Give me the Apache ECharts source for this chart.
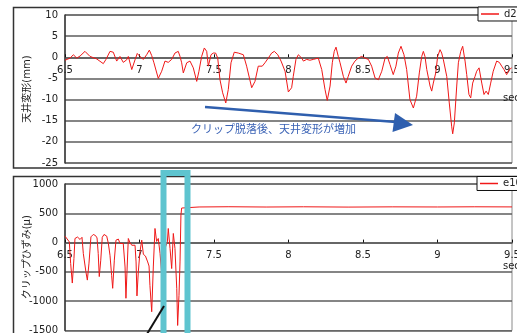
<!DOCTYPE html>
<html>
<head>
<meta charset="utf-8">
<script src="https://cdn.jsdelivr.net/npm/echarts@6/dist/echarts.min.js"></script>
<style>
  html, body { margin: 0; padding: 0; background: #fff; }
  #chart { width: 517px; height: 333px; }
</style>
</head>
<body>
<div id="chart"></div>
<script>
// Ceiling displacement d2 (mm) against time (sec)
const timeD2 = [
  6.500,6.534,6.556,6.579,6.601,6.634,6.668,6.713,6.757,6.775,
  6.802,6.824,6.847,6.869,6.891,6.914,6.925,6.948,6.970,6.985,
  7.003,7.026,7.048,7.066,7.082,7.097,7.126,7.149,7.171,7.193,
  7.216,7.238,7.260,7.272,7.283,7.294,7.317,7.339,7.361,7.384,
  7.399,7.417,7.435,7.451,7.462,7.480,7.495,7.511,7.525,7.540,
  7.558,7.579,7.596,7.614,7.636,7.663,7.697,7.719,7.753,7.775,
  7.797,7.809,7.824,7.842,7.864,7.887,7.905,7.928,7.950,7.977,
  7.999,8.021,8.032,8.050,8.066,8.089,8.100,8.122,8.144,8.166,
  8.200,8.223,8.245,8.260,8.279,8.294,8.307,8.319,8.334,8.346,
  8.368,8.386,8.401,8.424,8.446,8.468,8.491,8.513,8.536,8.558,
  8.581,8.603,8.626,8.648,8.663,8.681,8.703,8.721,8.737,8.755,
  8.775,8.793,8.815,8.838,8.860,8.878,8.894,8.905,8.916,8.928,
  8.950,8.961,8.972,8.988,9.001,9.017,9.028,9.039,9.062,9.079,
  9.095,9.102,9.113,9.129,9.140,9.156,9.169,9.185,9.196,9.211,
  9.223,9.236,9.252,9.263,9.279,9.297,9.312,9.326,9.341,9.357,
  9.374,9.397,9.415,9.431,9.446,9.464,9.482,9.498
];
const d2 = [
  -0.7,-0.2,0.6,-0.2,0.3,1.4,0.2,-0.4,-1.5,-0.5,
  1.4,1.2,-0.9,0.2,-1.2,-0.6,0.2,-2.9,-0.6,0.9,
  0.2,-0.5,0.6,1.7,0.4,-1.3,-5.0,-3.3,-0.9,-1.2,
  -0.5,1.0,1.4,0.2,-1.3,-3.7,-1.3,-0.9,-2.5,-5.7,
  -3.3,0.2,2.2,1.4,-2.1,0.6,1.0,1.0,-0.2,-5.3,
  -8.4,-10.8,-7.6,-1.3,1.2,1.0,0.6,-2.1,-7.2,-5.7,
  -2.1,-1.7,-2.1,-1.3,-0.2,1.0,1.4,0.6,-0.9,-3.3,
  -8.2,-7.2,-4.5,-0.5,0.6,-0.2,-0.9,-0.5,-0.7,-0.5,
  -0.2,-2.9,-7.6,-10.2,-6.8,-1.3,1.4,2.4,0.2,-1.3,
  -4.5,-6.1,-4.5,-2.1,-0.9,-0.2,0.2,-0.2,-0.5,-2.1,
  -4.9,-5.3,-3.3,-0.2,0.2,-1.7,-4.1,-2.1,1.0,2.6,
  0.6,-2.9,-10.0,-12.0,-9.2,-3.7,0.2,1.4,0.2,-2.9,
  -6.8,-8.0,-6.1,-3.7,0.2,1.8,1.0,-0.5,-4.5,-10.8,
  -16.3,-18.1,-15.5,-6.8,-1.3,1.4,2.6,-0.9,-4.1,-8.8,
  -9.6,-6.1,-4.5,-3.3,-2.5,-6.1,-8.8,-8.0,-8.8,-6.1,
  -3.3,-0.9,-1.2,-2.1,-2.9,-4.1,-2.9,-2.5
];

// Clip strain e10 (μ) against time (sec)
const timeE10 = [
  6.500,6.513,6.529,6.538,6.549,6.560,6.567,6.584,6.601,6.614,
  6.623,6.641,6.650,6.661,6.674,6.690,6.705,6.715,6.723,6.730,
  6.740,6.750,6.762,6.780,6.791,6.802,6.813,6.820,6.831,6.842,
  6.858,6.869,6.881,6.891,6.903,6.909,6.916,6.925,6.936,6.948,
  6.958,6.970,6.977,6.983,6.992,7.003,7.015,7.026,7.040,7.055,
  7.064,7.070,7.082,7.093,7.104,7.115,7.126,7.138,7.151,7.161,
  7.171,7.187,7.193,7.205,7.216,7.227,7.238,7.250,7.256,7.265,
  7.272,7.278,7.283,7.294,7.400,7.600,7.850,8.100,8.400,8.700,
  9.000,9.250,9.500
];
const e10 = [
  110,90,12,-358,-690,-272,70,95,53,90,
  -187,-510,-640,-350,98,139,120,80,-187,-580,
  -300,90,139,110,-15,-216,-558,-780,-300,41,
  60,-15,10,-15,-416,-950,-500,70,0,-45,
  -20,-45,-330,-910,-500,-159,41,-200,-230,-330,
  -400,-729,-1180,-400,241,20,70,-187,-600,-200,
  -100,12,241,-100,-443,156,-100,-786,-1414,-900,
  -330,469,590,611,608,612,607,611,606,610,
  608,611,609
];

// Axis ranges and tick spacing
const timeRange = [6.5, 9.5];
const timeStep = 0.5;
const d2Range = [-25, 10];
const d2Step = 5;
const e10Range = [-1500, 1000];
const e10Step = 500;

const labels = {
  d2Axis: '天井変形(mm)',
  e10Axis: 'クリップひずみ(μ)',
  timeAxis: 'sec',
  note: 'クリップ脱落後、天井変形が増加'
};

const FONT = '"DejaVu Sans", "Noto Sans CJK JP", sans-serif';
const RED = '#f01818';
const GRID_LINE = '#5c5c5c';

// panel layout
const panels = [
  { left: 65, right: 5, top: 15, height: 148 },
  { left: 65, right: 5, top: 184, height: 146.5 }
];

function xAxisFor(gridIndex, namePadTop) {
  return {
    type: 'value', gridIndex,
    min: timeRange[0], max: timeRange[1], interval: timeStep,
    axisLine: { onZero: false, lineStyle: { color: GRID_LINE, width: 1.5 } },
    axisTick: { show: true, inside: true, length: 3, lineStyle: { color: '#111', width: 1 } },
    axisLabel: { fontSize: 10, color: '#222', fontFamily: FONT, margin: 8 },
    splitLine: { show: false },
    name: labels.timeAxis, nameLocation: 'end', nameGap: -9,
    nameTextStyle: { fontSize: 10, color: '#222', fontFamily: FONT, align: 'left', verticalAlign: 'top', padding: [namePadTop, 0, 0, 0] }
  };
}

function yAxisFor(gridIndex, range, step, name) {
  return {
    type: 'value', gridIndex,
    min: range[0], max: range[1], interval: step,
    axisLine: { show: true, lineStyle: { color: '#333', width: 1.5 } },
    axisTick: { show: false },
    axisLabel: { fontSize: 10, color: '#222', fontFamily: FONT, margin: 7, formatter: v => String(v) },
    splitLine: { show: true, lineStyle: { color: GRID_LINE, width: 1.5 } },
    name, nameLocation: 'middle', nameGap: 33, nameRotate: 90, nameMoveOverlap: false,
    nameTextStyle: { fontSize: 10, color: '#222', fontFamily: FONT }
  };
}

const legendBase = {
  orient: 'horizontal', icon: 'rect', itemWidth: 18, itemHeight: 1.5, itemGap: 4,
  padding: [2, 3, 2, 3], borderColor: '#111', borderWidth: 1, backgroundColor: '#fff',
  textStyle: { fontSize: 10, color: '#222', fontFamily: FONT }
};

const chart = echarts.init(document.getElementById('chart'), null, { renderer: 'canvas' });
chart.setOption({
  animation: false,
  backgroundColor: '#fff',
  textStyle: { fontFamily: FONT },
  grid: panels.map(p => Object.assign({ show: true, borderColor: '#8a8a8a', borderWidth: 1, outerBoundsMode: 'none', containLabel: false }, p)),
  xAxis: [xAxisFor(0, 36), xAxisFor(1, 19)],
  yAxis: [
    yAxisFor(0, d2Range, d2Step, labels.d2Axis),
    yAxisFor(1, e10Range, e10Step, labels.e10Axis)
  ],
  legend: [
    Object.assign({ data: ['d2'], left: 478, top: 7 }, legendBase),
    Object.assign({ data: ['e10'], left: 477, top: 176.5 }, legendBase)
  ],
  series: [
    {
      name: 'd2', type: 'line', xAxisIndex: 0, yAxisIndex: 0,
      data: timeD2.map((t, i) => [t, d2[i]]),
      symbol: 'none', smooth: false,
      lineStyle: { color: RED, width: 1 }, itemStyle: { color: RED }, z: 3
    },
    {
      name: 'e10', type: 'line', xAxisIndex: 1, yAxisIndex: 1,
      data: timeE10.map((t, i) => [t, e10[i]]),
      symbol: 'none', smooth: false,
      lineStyle: { color: RED, width: 1 }, itemStyle: { color: RED }, z: 3
    }
  ],
  graphic: [
    // panel frames
    { type: 'rect', z: 0, shape: { x: 13.5, y: 7.5, width: 520, height: 160.5 }, style: { fill: 'none', stroke: '#333', lineWidth: 1.5 } },
    { type: 'rect', z: 0, shape: { x: 13.5, y: 176.5, width: 520, height: 200 }, style: { fill: 'none', stroke: '#333', lineWidth: 1.5 } },
    // trend arrow and note
    { type: 'line', z: 10, shape: { x1: 205, y1: 107, x2: 396, y2: 122 }, style: { stroke: '#2f5fae', lineWidth: 2.5 } },
    { type: 'polygon', z: 10, shape: { points: [[413, 125], [395, 113], [392.5, 132]] }, style: { fill: '#2f5fae' } },
    { type: 'text', z: 10, style: { x: 191, y: 130, text: labels.note, fontSize: 11, fill: '#3a62b5', fontFamily: FONT, verticalAlign: 'middle' } },
    // highlight box around the detachment moment
    { type: 'rect', z: 20, shape: { x: 163.5, y: 173, width: 24, height: 200 }, style: { fill: 'none', stroke: '#5ec4cf', lineWidth: 6 } },
    { type: 'line', z: 20, shape: { x1: 147, y1: 334, x2: 164, y2: 306 }, style: { stroke: '#111', lineWidth: 2 } }
  ]
});

// Move each time axis (line, ticks, labels) up to the zero level of its panel
chart.setOption({
  xAxis: panels.map((p, i) => {
    const zeroY = chart.convertToPixel({ yAxisIndex: i }, 0);
    return { offset: zeroY - (p.top + p.height) };
  })
});
</script>
</body>
</html>
